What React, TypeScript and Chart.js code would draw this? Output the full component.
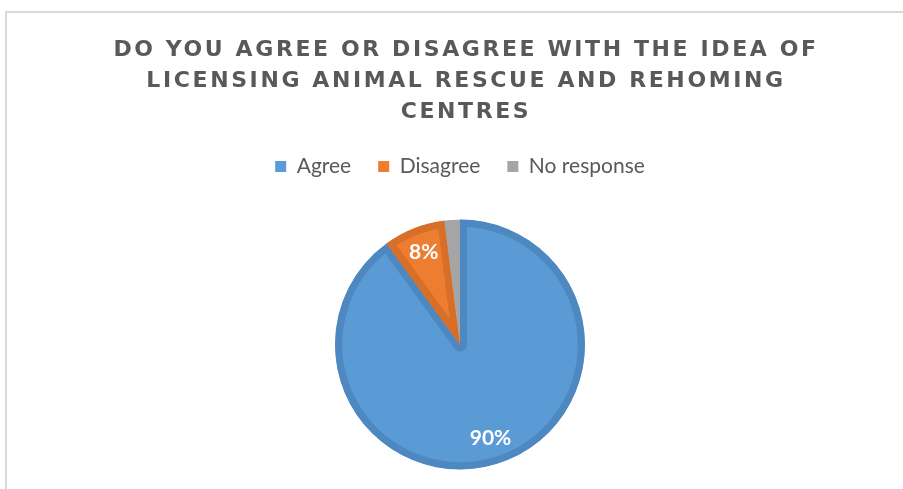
import React, { useEffect, useRef } from "react";
import { Chart, registerables } from "chart.js";

Chart.register(...registerables);

const titleLines = [
  "DO YOU AGREE OR DISAGREE WITH THE IDEA OF",
  "LICENSING ANIMAL RESCUE AND REHOMING",
  "CENTRES",
];
const categories = ["Agree", "Disagree", "No response"];
const values = [90, 8, 2];
const pctLabels = ["90%", "8%", ""];
const fillColors = ["#5b9bd5", "#ed7d31", "#a5a5a5"];
const borderColors = ["#4e88c1", "#d86f29", "#a5a5a5"];
const borderWidths = [7, 7, 0];

const spacedTitle = {
  id: "spacedTitle",
  afterInit(chart: any) {
    const tb = chart.titleBlock;
    if (!tb) return;
    const orig = tb.draw.bind(tb);
    tb.draw = () => {
      const ctx = chart.ctx;
      ctx.save();
      ctx.translate(6, 0);
      (ctx as any).letterSpacing = "2.6px";
      orig();
      ctx.restore();
    };
  },
};

const pieLabels = {
  id: "pieLabels",
  afterDatasetsDraw(chart: any) {
    const ctx = chart.ctx;
    const meta = chart.getDatasetMeta(0);
    ctx.save();
    ctx.fillStyle = "#ffffff";
    ctx.font = "bold 21px Lato";
    ctx.textAlign = "center";
    ctx.textBaseline = "middle";
    meta.data.forEach((arc: any, i: number) => {
      const text = pctLabels[i];
      if (!text) return;
      const { x, y, startAngle, endAngle, outerRadius } = arc.getProps(
        ["x", "y", "startAngle", "endAngle", "outerRadius"],
        true
      );
      const mid = (startAngle + endAngle) / 2;
      const r = outerRadius * 0.79;
      ctx.fillText(text, x + Math.cos(mid) * r, y + Math.sin(mid) * r);
    });
    ctx.restore();
  },
};

export default function App() {
  const ref = useRef<HTMLCanvasElement | null>(null);
  useEffect(() => {
    if (!ref.current) return;
    const chart = new Chart(ref.current, {
      type: "pie",
      data: {
        labels: categories,
        datasets: [
          {
            data: values,
            backgroundColor: fillColors,
            borderColor: borderColors,
            borderWidth: borderWidths,
            borderAlign: "inner",
            radius: 125,
          } as any,
        ],
      },
      options: {
        responsive: false,
        animation: false,
        layout: { padding: { left: 17, right: 0, top: 0, bottom: 0 } },
        plugins: {
          title: {
            display: true,
            text: titleLines,
            color: "#595959",
            font: { family: "DejaVu Sans", weight: "bold", size: 22, lineHeight: 31 / 22 },
            padding: { top: 35, bottom: 1 },
          },
          legend: {
            display: true,
            position: "top",
            labels: {
              boxWidth: 11,
              boxHeight: 11,
              color: "#595959",
              font: { family: "Lato", size: 21 },
              padding: 27,
              generateLabels: (chart: any) =>
                categories.map((c, i) => ({
                  text: c,
                  fillStyle: fillColors[i],
                  strokeStyle: fillColors[i],
                  lineWidth: 0,
                  hidden: false,
                  index: i,
                  fontColor: "#595959",
                })),
            },
          },
          tooltip: { enabled: false },
        },
      },
      plugins: [spacedTitle, pieLabels],
    });
    chart.draw();
    return () => chart.destroy();
  }, []);
  return (
    <div
      style={{
        position: "absolute",
        left: 0,
        top: 0,
        width: 903,
        height: 489,
        overflow: "hidden",
        background: "#fff",
      }}
    >
      <div
        style={{
          position: "absolute",
          left: 5,
          top: 11,
          width: 898,
          height: 478,
          borderLeft: "2px solid #d9d9d9",
          borderTop: "2px solid #d9d9d9",
          boxSizing: "border-box",
        }}
      />
      <canvas
        ref={ref}
        width={903}
        height={502}
        style={{ position: "absolute", left: 0, top: 0 }}
      />
    </div>
  );
}
